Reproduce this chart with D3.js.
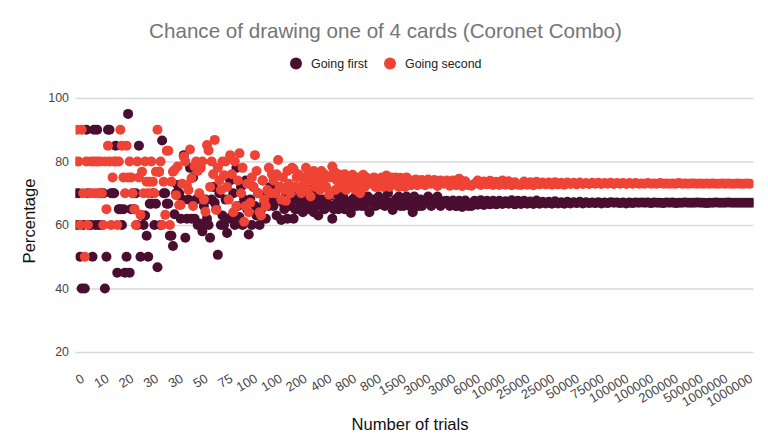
<!DOCTYPE html>
<html>
<head>
<meta charset="utf-8">
<script src="https://cdn.jsdelivr.net/npm/d3@7"></script>
<style>
  html, body { margin: 0; padding: 0; background: #fff; }
  text { font-family: "Liberation Sans", Arial, sans-serif; }
</style>
</head>
<body>
<div id="chart"></div>
<script>
const FRAME_WIDTH = 768;
const FRAME_HEIGHT = 446;
const MARGINS = {left: 75.5, right: 14.5, top: 98, bottom: 94};

const tick_labels = ["0", "10", "20", "30", "30", "50", "75", "100", "100", "200", "400", "800", "800", "1500",
  "3000", "3000", "6000", "10000", "25000", "25000", "50000", "75000", "100000", "100000", "200000", "500000",
  "1000000", "1000000"];
const y_ticks = [20, 40, 60, 80, 100];

// one row per x axis label left to right
const going_first = [
  [70, 60, 70, 50, 40, 60, 40, 90, 70, 60, 60, 50, 90, 60, 90, 60],
  [70, 60, 70, 40, 50, 90, 90, 70, 70, 70, 85, 45, 65, 65, 60, 65],
  [45, 50, 95, 45, 65, 70, 65, 70, 60, 85, 50, 63, 60, 63, 56.6, 50],
  [66.7, 66.7, 70, 60, 66.7, 46.7, 76.8, 60, 86.6, 70, 70, 66.7, 66.7, 56.6, 56.6, 53.4],
  [63.4, 70, 72.6, 70, 62, 68, 82, 56, 62, 68, 78, 62, 75, 62, 68, 60],
  [60.5, 60, 58, 66, 68, 62, 60, 56, 68, 72, 67, 65, 50.6, 70, 60, 63],
  [60, 68, 57.5, 62, 74, 62.6, 70, 60, 78, 66, 62.5, 72, 60, 68, 74, 65],
  [57, 68, 60, 72, 66, 63, 70, 60, 65, 74, 67, 62, 70, 66, 72, 68],
  [66, 70, 63, 68, 72, 61.6, 67, 65, 70, 62, 68, 66, 71, 62, 65, 68],
  [65, 69, 67, 64, 70, 66, 68, 65, 71, 67, 64, 69, 66, 63, 68, 66],
  [68, 65, 67, 66, 69, 66, 62, 65, 70, 67, 65, 68, 66, 69, 65, 67],
  [66, 67, 63.8, 68, 66, 69, 66, 67, 70, 66, 68, 66, 67, 69, 64, 67],
  [67, 68, 66, 67, 69, 66.5, 67, 68, 66, 67, 70, 67, 66, 64.7, 67, 68],
  [67, 69, 66, 68, 66, 67, 69, 67, 66, 68, 64, 69, 66, 67.5, 66, 68],
  [66, 67.6, 69, 66, 67.6, 69, 66, 67.5],
  [67.6, 66, 67.7, 65.9, 67.6, 65.7, 67.7, 66],
  [66, 67.6, 66.4, 67.8, 66.3, 67.6, 66.5, 67.6],
  [66.5, 67.6, 66.6, 67.5, 66.7, 67.8, 66.5, 67.6],
  [66.6, 67.6, 66.7, 67.4, 66.6, 67.7, 66.7, 67.3],
  [66.8, 67.3, 66.7, 67.5, 66.8, 67.2, 66.7, 67.3],
  [66.8, 67.2, 66.9, 67.3, 66.8, 67.2, 66.9, 67.1],
  [66.9, 67.2, 66.8, 67.1, 66.9, 67.2, 67, 67.1],
  [66.9, 67.1, 66.8, 67.1, 66.9, 67.1, 67, 67.1],
  [67, 67.1, 66.9, 67.1, 67, 67, 66.9, 67.1],
  [67, 67.1, 66.9, 67, 67, 67.1, 67, 67],
  [67, 67.1, 67, 67, 66.9, 67, 67, 67.1],
  [67, 67, 67, 67.1, 67, 67, 67, 67],
  [67, 67, 67, 67, null, null, null, null]
];
const going_second = [
  [80, 90, 80, 60, 90, 70, 50, 80, 60, 70, 80, 70, 80, 70, 80, 70],
  [80, 70, 60, 80, 65, 85, 80, 60, 75, 80, 80, 60, 80, 90, 85, 75],
  [70, 85, 75, 80, 75, 70, 65, 60, 80, 75, 63.2, 76.8, 70, 80, 73.6, 70],
  [73.6, 80, 73.6, 70, 76.8, 90, 76.8, 80, 60, 73.6, 63.2, 83.4, 83.4, 60, 73.6, 76.8],
  [77.3, 69.4, 78.4, 66.3, 66.3, 73, 81.5, 80, 72.6, 71, 83.8, 74.7, 66, 78.4, 80, 77],
  [70, 78, 80, 68, 64.2, 85.2, 83.5, 72, 80, 76, 86.8, 64.7, 78, 74, 71, 80],
  [75.7, 80, 72, 68, 82, 76, 64, 80, 66, 74, 82.6, 70, 78, 61, 66, 73],
  [64, 67, 75, 72, 82, 77, 70, 64, 63, 74, 68, 66, 71, 78, 70, 76],
  [74, 70, 76, 80.5, 72, 68, 75, 71, 67.6, 77, 73, 70, 78, 77.6, 72, 75],
  [76, 72, 70, 75, 73, 78, 71, 76, 69, 74, 77, 72, 75, 73, 71, 77],
  [74, 76, 72, 75, 69.5, 75, 78.4, 77, 71, 74, 76, 72, 75, 73, 76, 71],
  [75, 72, 74, 75.8, 73, 71, 75, 74, 70, 73, 75.8, 72, 75, 74, 73, 74],
  [73, 75, 72, 74, 72, 73, 75, 72, 74, 75.6, 73, 72, 75, 74, 73, 75],
  [74, 72, 74.9, 73, 74, 72, 75, 73, 74, 72.5, 74, 73, 74.3, 72.5, 74, 73],
  [74.2, 72.5, 74.3, 73, 74.2, 72.3, 74, 73],
  [74, 72.4, 74, 72.5, 74.6, 72.3, 73.8, 72.5],
  [72.4, 73, 74, 72.6, 73.7, 72.8, 73.9, 72.6],
  [73.6, 72.6, 74, 72.7, 73.8, 72.5, 73.5, 72.7],
  [72.6, 73.7, 72.7, 73.5, 72.5, 73.6, 72.8, 73.4],
  [72.8, 73.4, 72.7, 73.5, 72.8, 73.3, 72.7, 73.4],
  [72.9, 73.3, 72.8, 73.4, 72.9, 73.2, 72.9, 73.3],
  [73, 73.3, 72.9, 73.2, 73, 73.3, 72.9, 73.2],
  [73, 73.2, 72.9, 73.2, 73, 73.2, 73, 73.1],
  [73, 73.2, 73, 73.1, 73, 73.2, 73, 73.1],
  [73, 73.1, 73, 73.2, 73, 73.1, 73, 73.1],
  [73.1, 73, 73.1, 73, 73.1, 73, 73.1, 73],
  [73, 73.1, 73, 73.1, 73, 73, 73.1, 73],
  [73, 73.1, 73, null, null, null, null, null]
];

const FIRST_COLOR = "#4a0f30";
const SECOND_COLOR = "#ee4335";
const DOT_RADIUS = 5;

const FRAME = d3.select("#chart")
  .append("svg")
    .attr("width", FRAME_WIDTH)
    .attr("height", FRAME_HEIGHT)
    .style("display", "block");

// the last label's band runs past the plot, the dots are clipped there
const x = d3.scaleBand()
  .domain(d3.range(tick_labels.length))
  .range([MARGINS.left, MARGINS.left + 24.75 * tick_labels.length]);

const y = d3.scaleLinear()
  .domain([20, 100])
  .range([FRAME_HEIGHT - MARGINS.bottom, MARGINS.top]);

// Gridlines and y labels
const y_axis = FRAME.append("g")
  .attr("transform", "translate(" + MARGINS.left + ",0)")
  .call(d3.axisLeft(y).tickValues(y_ticks).tickSize(0).tickPadding(6.5));
y_axis.select(".domain").remove();
y_axis.selectAll("text")
  .style("font-size", "12.4px")
  .style("fill", "#444");
y_axis.selectAll(".tick line")
  .attr("x2", FRAME_WIDTH - MARGINS.left - MARGINS.right)
  .attr("stroke", "#d9d9d9")
  .attr("stroke-width", 1.3);

// X labels, slanted
const x_axis = FRAME.append("g")
  .attr("transform", "translate(0,377)")
  .call(d3.axisBottom(x).tickFormat((i) => tick_labels[i]).tickSize(0));
x_axis.select(".domain").remove();
x_axis.selectAll("text")
  .attr("y", 0)
  .attr("dy", "0.35em")
  .attr("text-anchor", "end")
  .attr("transform", "translate(-5,0) rotate(-31)")
  .style("font-size", "13px")
  .style("fill", "#444");

FRAME.append("clipPath")
  .attr("id", "plot-clip")
  .append("rect")
    .attr("x", MARGINS.left)
    .attr("y", 0)
    .attr("width", FRAME_WIDTH - MARGINS.left - MARGINS.right)
    .attr("height", FRAME_HEIGHT);

// spread each row evenly across the band of its label
function row_points(rows) {
  const points = [];
  rows.forEach((row, i) => {
    const inner = d3.scaleLinear()
      .domain([0, row.length])
      .range([x(i), x(i) + x.bandwidth()]);
    row.forEach((value, k) => {
      if (value !== null) {
        points.push({cx: inner(k), value: value});
      }
    });
  });
  return points;
}

const plot = FRAME.append("g").attr("clip-path", "url(#plot-clip)");

function add_dots(rows, color) {
  plot.append("g")
    .selectAll("circle")
    .data(row_points(rows))
    .enter()
    .append("circle")
      .attr("cx", (d) => { return d.cx; })
      .attr("cy", (d) => { return y(d.value); })
      .attr("r", DOT_RADIUS)
      .style("fill", color);
}

add_dots(going_first, FIRST_COLOR);
add_dots(going_second, SECOND_COLOR);

// Title
FRAME.append("text")
  .attr("x", 385.5)
  .attr("y", 38)
  .attr("text-anchor", "middle")
  .style("font-size", "20.6px")
  .style("fill", "#757575")
  .text("Chance of drawing one of 4 cards (Coronet Combo)");

// Legend
const legend = [
  {label: "Going first", color: FIRST_COLOR, cx: 296},
  {label: "Going second", color: SECOND_COLOR, cx: 390}
];
legend.forEach((d) => {
  FRAME.append("circle")
    .attr("cx", d.cx)
    .attr("cy", 63.5)
    .attr("r", 6)
    .style("fill", d.color);
  FRAME.append("text")
    .attr("x", d.cx + 15)
    .attr("y", 67.5)
    .style("font-size", "12.4px")
    .style("fill", "#222")
    .text(d.label);
});

// Axis titles
FRAME.append("text")
  .attr("x", 410)
  .attr("y", 430)
  .attr("text-anchor", "middle")
  .style("font-size", "16.6px")
  .style("fill", "#111")
  .text("Number of trials");

FRAME.append("text")
  .attr("transform", "translate(34.5,221) rotate(-90)")
  .attr("text-anchor", "middle")
  .style("font-size", "16.6px")
  .style("fill", "#111")
  .text("Percentage");
</script>
</body>
</html>
